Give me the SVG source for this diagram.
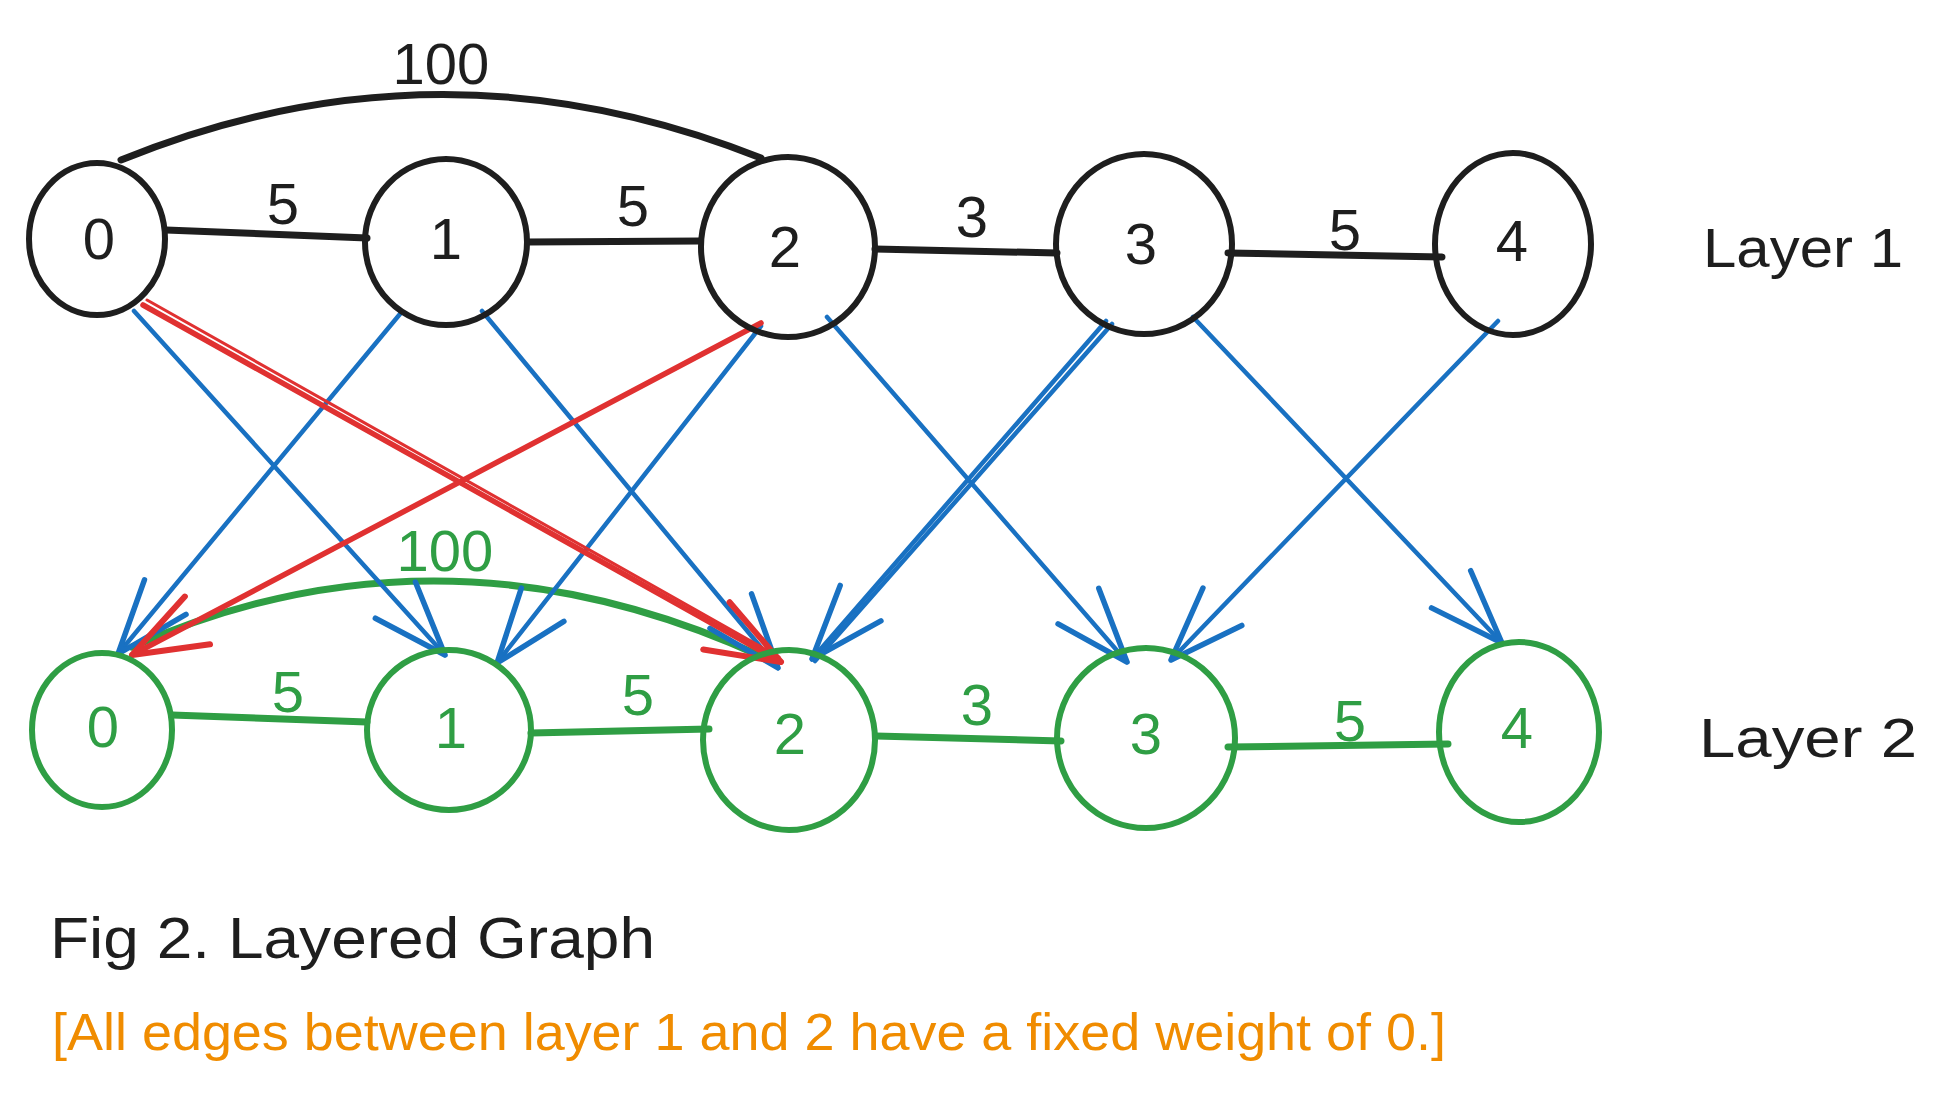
<svg xmlns="http://www.w3.org/2000/svg" width="1949" height="1095" viewBox="0 0 1949 1095">
<style>
text{font-family:"Liberation Sans","DejaVu Sans",sans-serif;}
.n1{fill:none;stroke:#1e1e1e;stroke-width:6;}
.n2{fill:none;stroke:#2f9e44;stroke-width:6;}
.t1{fill:#1e1e1e;font-size:58px;text-anchor:middle;}
.t2{fill:#2f9e44;font-size:58px;text-anchor:middle;}
.e1{fill:none;stroke:#1e1e1e;stroke-width:7;stroke-linecap:round;}
.e2{fill:none;stroke:#2f9e44;stroke-width:7;stroke-linecap:round;}
.b{fill:none;stroke:#1971c2;stroke-width:4.5;stroke-linecap:round;}
.r{fill:none;stroke:#e03131;stroke-width:5.5;stroke-linecap:round;}
</style>
<defs>
<marker id="ab" markerUnits="userSpaceOnUse" viewBox="-80 -32 84 64" refX="0" refY="0" markerWidth="84" markerHeight="64" orient="auto" overflow="visible">
<path d="M-74,-27 L0,0 L-74,27" fill="none" stroke="#1971c2" stroke-width="5.5" stroke-linecap="round" stroke-linejoin="round"/>
</marker>
<marker id="ar" markerUnits="userSpaceOnUse" viewBox="-80 -32 84 64" refX="0" refY="0" markerWidth="84" markerHeight="64" orient="auto" overflow="visible">
<path d="M-74,-27 L0,0 L-74,27" fill="none" stroke="#e03131" stroke-width="6" stroke-linecap="round" stroke-linejoin="round"/>
</marker>
</defs>
<rect width="1949" height="1095" fill="#ffffff"/>

<g id="connectors">
<path class="e1" d="M121,160 Q440,30 761,158"/>
<line class="e1" x1="166" y1="230" x2="367" y2="238"/>
<line class="e1" x1="528" y1="242" x2="700" y2="241"/>
<line class="e1" x1="875" y1="249" x2="1057" y2="253"/>
<line class="e1" x1="1228" y1="253" x2="1442" y2="257"/>
<path class="e2" d="M132,647 Q442,510 763,657"/>
<line class="e2" x1="172" y1="715" x2="367" y2="722"/>
<line class="e2" x1="531" y1="733" x2="709" y2="729"/>
<line class="e2" x1="876" y1="736" x2="1061" y2="741"/>
<line class="e2" x1="1228" y1="747" x2="1448" y2="744"/>
<line class="b" x1="134" y1="311" x2="445" y2="655" marker-end="url(#ab)"/>
<line class="b" x1="400" y1="314" x2="118" y2="654" marker-end="url(#ab)"/>
<line class="b" x1="482" y1="311" x2="778" y2="668" marker-end="url(#ab)"/>
<line class="b" x1="761" y1="326" x2="497" y2="663" marker-end="url(#ab)"/>
<line class="b" x1="827" y1="317" x2="1127" y2="662" marker-end="url(#ab)"/>
<line class="b" x1="1106" y1="321" x2="812" y2="659" marker-end="url(#ab)"/>
<line class="b" x1="1112" y1="324" x2="815" y2="661"/>
<line class="b" x1="1193" y1="317" x2="1502" y2="643" marker-end="url(#ab)"/>
<line class="b" x1="1498" y1="321" x2="1171" y2="660" marker-end="url(#ab)"/>
<line class="r" x1="143" y1="305" x2="781" y2="662" marker-end="url(#ar)"/>
<line class="r" x1="147" y1="300" x2="779" y2="657" style="stroke-width:3"/>
<line class="r" x1="761" y1="323" x2="132" y2="655" marker-end="url(#ar)"/>
</g>

<g id="l1n0"><ellipse class="n1" cx="97" cy="239" rx="68" ry="76"/><text class="t1" x="99" y="259">0</text></g>
<g id="l1n1"><ellipse class="n1" cx="446" cy="242" rx="81" ry="83"/><text class="t1" x="446" y="259">1</text></g>
<g id="l1n2"><ellipse class="n1" cx="788" cy="247" rx="87" ry="90"/><text class="t1" x="785" y="267">2</text></g>
<g id="l1n3"><ellipse class="n1" cx="1144" cy="244" rx="88" ry="90"/><text class="t1" x="1141" y="264">3</text></g>
<g id="l1n4"><ellipse class="n1" cx="1513" cy="244" rx="78" ry="91"/><text class="t1" x="1512" y="261">4</text></g>

<g id="l1w">
<text class="t1" x="283" y="224">5</text>
<text class="t1" x="633" y="226">5</text>
<text class="t1" x="972" y="237">3</text>
<text class="t1" x="1345" y="250">5</text>
<text class="t1" x="441" y="84">100</text>
</g>

<g id="l2n0"><ellipse class="n2" cx="102" cy="730" rx="70" ry="77"/><text class="t2" x="103" y="747">0</text></g>
<g id="l2n1"><ellipse class="n2" cx="449" cy="730" rx="82" ry="80"/><text class="t2" x="451" y="748">1</text></g>
<g id="l2n2"><ellipse class="n2" cx="789" cy="740" rx="86" ry="90"/><text class="t2" x="790" y="754">2</text></g>
<g id="l2n3"><ellipse class="n2" cx="1146" cy="738" rx="89" ry="90"/><text class="t2" x="1146" y="754">3</text></g>
<g id="l2n4"><ellipse class="n2" cx="1519" cy="732" rx="80" ry="90"/><text class="t2" x="1517" y="748">4</text></g>

<g id="l2w">
<text class="t2" x="288" y="712">5</text>
<text class="t2" x="638" y="715">5</text>
<text class="t2" x="977" y="725">3</text>
<text class="t2" x="1350" y="741">5</text>
<text class="t2" x="445" y="571">100</text>
</g>

<g id="labels">
<text x="1703" y="267" font-size="56" fill="#1e1e1e" textLength="200" lengthAdjust="spacingAndGlyphs">Layer 1</text>
<text x="1699" y="757" font-size="56" fill="#1e1e1e" textLength="218" lengthAdjust="spacingAndGlyphs">Layer 2</text>
<text x="50" y="958" font-size="58" fill="#1e1e1e" textLength="605" lengthAdjust="spacingAndGlyphs">Fig 2. Layered Graph</text>
<text x="52" y="1050" font-size="52" fill="#f08c00" textLength="1394" lengthAdjust="spacingAndGlyphs">[All edges between layer 1 and 2 have a fixed weight of 0.]</text>
</g>
</svg>
